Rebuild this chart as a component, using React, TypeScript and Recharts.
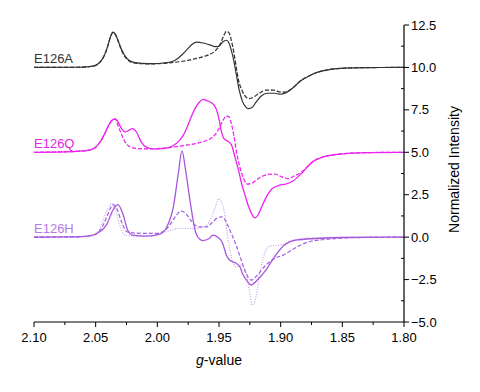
import { LineChart, Line, XAxis, YAxis, ReferenceDot } from "recharts";

type Pt = [number, number];

// g-value ticks (major every 0.05, minor every 0.025)
const xTicks = [2.1, 2.075, 2.05, 2.025, 2.0, 1.975, 1.95, 1.925, 1.9, 1.875, 1.85, 1.825, 1.8];
const yTicks = [-5, -3.75, -2.5, -1.25, 0, 1.25, 2.5, 3.75, 5, 6.25, 7.5, 8.75, 10, 11.25, 12.5];

// E126A, offset +10
const aSolid: Pt[] = [
  [2.1, 10.0], [2.065, 10.01], [2.055, 10.05], [2.05, 10.12], [2.046, 10.35], [2.043, 10.7], [2.04, 11.3],
  [2.038, 11.8], [2.036, 12.08], [2.034, 11.95], [2.032, 11.6], [2.029, 11.05], [2.026, 10.65], [2.023, 10.42],
  [2.019, 10.3], [2.012, 10.24], [2.004, 10.22], [1.995, 10.26], [1.988, 10.35], [1.984, 10.5], [1.98, 10.75],
  [1.976, 11.05], [1.972, 11.35], [1.968, 11.49], [1.963, 11.44], [1.958, 11.34], [1.953, 11.22], [1.95, 11.25],
  [1.947, 11.5], [1.944, 11.6], [1.942, 11.45], [1.94, 11.0], [1.938, 10.4], [1.936, 9.6], [1.934, 8.8],
  [1.931, 8.0], [1.928, 7.65], [1.926, 7.57], [1.923, 7.65], [1.92, 7.95], [1.916, 8.3], [1.911, 8.48],
  [1.905, 8.48], [1.9, 8.42], [1.896, 8.5], [1.89, 8.8], [1.884, 9.2], [1.877, 9.5], [1.87, 9.72],
  [1.86, 9.88], [1.848, 9.96], [1.83, 9.99], [1.8, 10.0],
];
const aDash: Pt[] = [
  [2.1, 10.0], [2.065, 10.01], [2.055, 10.05], [2.05, 10.12], [2.046, 10.35], [2.043, 10.7], [2.04, 11.3],
  [2.038, 11.8], [2.036, 12.05], [2.034, 11.95], [2.032, 11.6], [2.029, 11.0], [2.026, 10.6], [2.023, 10.38],
  [2.019, 10.27], [2.012, 10.22], [2.004, 10.21], [1.995, 10.24], [1.986, 10.3], [1.978, 10.38], [1.97, 10.5],
  [1.963, 10.63], [1.958, 10.76], [1.954, 10.92], [1.951, 11.15], [1.948, 11.55], [1.946, 11.9], [1.944, 12.12],
  [1.942, 12.05], [1.94, 11.6], [1.938, 10.9], [1.936, 10.0], [1.934, 9.2], [1.931, 8.6], [1.928, 8.25],
  [1.926, 8.16], [1.922, 8.25], [1.917, 8.5], [1.912, 8.66], [1.906, 8.66], [1.9, 8.55], [1.896, 8.55],
  [1.89, 8.8], [1.884, 9.2], [1.877, 9.5], [1.87, 9.72], [1.86, 9.88], [1.848, 9.96], [1.83, 9.99], [1.8, 10.0],
];

// E126Q, offset +5
const qSolid: Pt[] = [
  [2.1, 5.0], [2.07, 5.04], [2.06, 5.08], [2.054, 5.15], [2.05, 5.3], [2.046, 5.65], [2.042, 6.2], [2.039, 6.65],
  [2.036, 6.93], [2.034, 6.96], [2.032, 6.8], [2.029, 6.4], [2.026, 6.2], [2.023, 6.3], [2.02, 6.39], [2.017, 6.2],
  [2.013, 5.6], [2.009, 5.3], [2.004, 5.2], [1.998, 5.2], [1.992, 5.26], [1.987, 5.4], [1.982, 5.7], [1.979, 6.0],
  [1.976, 6.45], [1.973, 7.0], [1.97, 7.5], [1.966, 7.95], [1.963, 8.12], [1.96, 8.05], [1.957, 7.96],
  [1.954, 7.78], [1.952, 7.5], [1.95, 6.96], [1.948, 6.2], [1.946, 5.8], [1.943, 5.65], [1.94, 5.45],
  [1.937, 4.7], [1.934, 3.9], [1.932, 3.25], [1.929, 2.5], [1.926, 1.8], [1.923, 1.3], [1.921, 1.13],
  [1.918, 1.35], [1.915, 1.85], [1.911, 2.45], [1.907, 2.85], [1.901, 3.06], [1.896, 3.12], [1.89, 3.31],
  [1.882, 3.84], [1.874, 4.45], [1.866, 4.72], [1.858, 4.84], [1.845, 4.94], [1.83, 4.98], [1.8, 5.0],
];
const qDash: Pt[] = [
  [2.1, 5.0], [2.07, 5.04], [2.06, 5.08], [2.054, 5.15], [2.05, 5.3], [2.046, 5.65], [2.042, 6.2], [2.039, 6.65],
  [2.036, 6.93], [2.034, 6.96], [2.032, 6.6], [2.029, 6.05], [2.026, 5.6], [2.022, 5.31], [2.016, 5.22],
  [2.008, 5.2], [2.0, 5.22], [1.99, 5.28], [1.98, 5.38], [1.97, 5.5], [1.962, 5.65], [1.957, 5.8], [1.953, 6.05],
  [1.95, 6.4], [1.947, 6.85], [1.944, 7.13], [1.942, 7.1], [1.94, 6.7], [1.938, 6.0], [1.936, 5.1], [1.933, 4.1],
  [1.93, 3.45], [1.927, 3.12], [1.923, 3.2], [1.917, 3.5], [1.91, 3.7], [1.905, 3.72], [1.899, 3.55],
  [1.894, 3.45], [1.889, 3.6], [1.882, 3.9], [1.874, 4.45], [1.866, 4.72], [1.858, 4.84], [1.845, 4.94],
  [1.83, 4.98], [1.8, 5.0],
];

// E126H, offset 0
const hSolid: Pt[] = [
  [2.1, 0], [2.065, 0.02], [2.053, 0.1], [2.047, 0.3], [2.041, 0.75], [2.036, 1.59], [2.032, 1.92], [2.028, 1.39],
  [2.024, 0.41], [2.02, 0.12], [2.009, 0.06], [1.998, 0.18], [1.993, 0.51], [1.987, 1.78], [1.983, 3.75],
  [1.98, 5.08], [1.977, 3.9], [1.973, 1.9], [1.969, 0.3], [1.966, -0.1], [1.963, -0.2], [1.958, -0.08],
  [1.955, 0.12], [1.951, 0.0], [1.947, -0.37], [1.944, -1.06], [1.941, -1.38], [1.937, -1.5], [1.933, -1.75],
  [1.931, -2.14], [1.927, -2.6], [1.924, -2.82], [1.919, -2.53], [1.912, -1.94], [1.905, -1.16], [1.897, -0.47],
  [1.888, -0.18], [1.871, -0.08], [1.85, -0.02], [1.8, 0],
];
const hDash: Pt[] = [
  [2.1, 0], [2.065, 0.02], [2.055, 0.08], [2.05, 0.18], [2.047, 0.35], [2.044, 0.7], [2.041, 1.2], [2.038, 1.7],
  [2.036, 1.92], [2.033, 1.7], [2.029, 0.9], [2.025, 0.33], [2.02, 0.25], [2.01, 0.22], [2.001, 0.22],
  [1.995, 0.35], [1.99, 0.71], [1.985, 1.25], [1.981, 1.53], [1.977, 1.4], [1.974, 1.1], [1.97, 0.75],
  [1.966, 0.6], [1.96, 0.61], [1.955, 0.9], [1.951, 1.15], [1.948, 1.2], [1.945, 1.0], [1.942, 0.55],
  [1.939, 0.05], [1.936, -0.5], [1.932, -1.35], [1.928, -2.14], [1.924, -2.53], [1.919, -2.24], [1.912, -1.65],
  [1.905, -1.25], [1.898, -1.06], [1.889, -0.67], [1.877, -0.27], [1.858, -0.1], [1.84, -0.03], [1.8, 0],
];
const hDot: Pt[] = [
  [2.1, 0], [2.065, 0.02], [2.055, 0.08], [2.05, 0.2], [2.047, 0.45], [2.044, 1.0], [2.04, 1.7], [2.037, 1.98],
  [2.034, 1.6], [2.03, 0.61], [2.026, 0.12], [2.018, 0.06], [2.005, 0.06], [1.993, 0.31], [1.982, 0.51],
  [1.971, 0.51], [1.963, 0.58], [1.958, 0.9], [1.954, 1.55], [1.95, 2.27], [1.947, 1.9], [1.945, 1.2],
  [1.943, 0.05], [1.94, -1.16], [1.936, -1.75], [1.932, -1.65], [1.928, -2.14], [1.925, -3.31], [1.923, -4.0],
  [1.92, -3.51], [1.917, -2.14], [1.913, -0.96], [1.909, -0.53], [1.901, -0.47], [1.896, -0.37], [1.89, -0.18],
  [1.875, -0.04], [1.8, 0],
];

const FONT = "Arial, 'Liberation Sans', sans-serif";
const toRows = (pts: Pt[]) => pts.map(([g, v]) => ({ g, v }));

function XTick({ x, y, payload }: any) {
  const v = payload.value as number;
  const major = Math.abs(v * 20 - Math.round(v * 20)) < 1e-6;
  return (
    <g>
      <line x1={x} x2={x} y1={y} y2={y + (major ? 5 : 3)} stroke="#000" strokeWidth={1} />
      {major && (
        <text x={x} y={y + 20} textAnchor="middle" fontSize={13} fontFamily={FONT} fill="#000">
          {v.toFixed(2)}
        </text>
      )}
    </g>
  );
}

function YTick({ x, y, payload }: any) {
  const v = payload.value as number;
  const major = Math.abs(v / 2.5 - Math.round(v / 2.5)) < 1e-6;
  const s = v.toFixed(1).replace("-", "\u2212");
  return (
    <g>
      {major ? (
        <line x1={x} x2={x + 5} y1={y} y2={y} stroke="#000" />
      ) : (
        <line x1={x - 3} x2={x} y1={y} y2={y} stroke="#000" />
      )}
      {major && (
        <text x={x + 7} y={y + 4.5} fontSize={13} fontFamily={FONT} fill="#000">
          {s}
        </text>
      )}
    </g>
  );
}

function XTitle({ viewBox }: any) {
  const cx = viewBox.x + viewBox.width / 2;
  return (
    <text x={cx} y={viewBox.y + 43} textAnchor="middle" fontSize={14} fontFamily={FONT} fill="#000">
      <tspan fontStyle="italic">g</tspan>-value
    </text>
  );
}

function YTitle({ viewBox }: any) {
  const x = viewBox.x + 55;
  const y = viewBox.y + viewBox.height / 2 - 4;
  return (
    <text x={x} y={y} textAnchor="middle" fontSize={14} fontFamily={FONT} fill="#000" transform={`rotate(-90 ${x} ${y})`}>
      Normalized Intensity
    </text>
  );
}

function GroupLabel({ viewBox, text, color }: any) {
  return (
    <text x={viewBox.x} y={viewBox.y - 4} fontSize={13} fontFamily={FONT} fill={color}>
      {text}
    </text>
  );
}

export default function App() {
  return (
    <div style={{ position: "absolute", left: 0, top: 0, width: 480, height: 392, background: "#fff" }}>
      <LineChart width={480} height={392} margin={{ top: 25, right: 15, bottom: 30, left: 34 }}>
        <XAxis
          dataKey="g"
          type="number"
          domain={[1.8, 2.1]}
          reversed
          ticks={xTicks}
          interval={0}
          tickSize={0}
          tickMargin={0}
          tickLine={false}
          tick={(p: any) => <XTick {...p} />}
          axisLine={{ stroke: "#000", strokeWidth: 1.2 }}
          height={40}
          label={<XTitle />}
        />
        <YAxis
          orientation="right"
          type="number"
          domain={[-5, 12.5]}
          ticks={yTicks}
          interval={0}
          tickSize={0}
          tickMargin={0}
          tickLine={false}
          tick={(p: any) => <YTick {...p} />}
          axisLine={{ stroke: "#000", strokeWidth: 1.2 }}
          width={61}
          label={<YTitle />}
        />
        <Line data={toRows(aDash)} dataKey="v" type="monotone" stroke="#aaaaaa" strokeWidth={1.2} strokeDasharray="1 2" dot={false} isAnimationActive={false} />
        <Line data={toRows(aDash)} dataKey="v" type="monotone" stroke="#333333" strokeWidth={1.2} strokeDasharray="4 2" dot={false} isAnimationActive={false} />
        <Line data={toRows(aSolid)} dataKey="v" type="monotone" stroke="#333333" strokeWidth={1.2} dot={false} isAnimationActive={false} />
        <Line data={toRows(qDash)} dataKey="v" type="monotone" stroke="#f59af5" strokeWidth={1.2} strokeDasharray="1 2" dot={false} isAnimationActive={false} />
        <Line data={toRows(qDash)} dataKey="v" type="monotone" stroke="#ee22ee" strokeWidth={1.2} strokeDasharray="4 2" dot={false} isAnimationActive={false} />
        <Line data={toRows(qSolid)} dataKey="v" type="monotone" stroke="#ee22ee" strokeWidth={1.3} dot={false} isAnimationActive={false} />
        <Line data={toRows(hDot)} dataKey="v" type="monotone" stroke="#c79ff0" strokeWidth={1.2} strokeDasharray="1 1.5" dot={false} isAnimationActive={false} />
        <Line data={toRows(hDash)} dataKey="v" type="monotone" stroke="#a060dc" strokeWidth={1.2} strokeDasharray="4 2" dot={false} isAnimationActive={false} />
        <Line data={toRows(hSolid)} dataKey="v" type="monotone" stroke="#a658dc" strokeWidth={1.3} dot={false} isAnimationActive={false} />
        <ReferenceDot x={2.1} y={10} r={0} stroke="none" fill="none" label={<GroupLabel text="E126A" color="#333333" />} />
        <ReferenceDot x={2.1} y={5} r={0} stroke="none" fill="none" label={<GroupLabel text="E126Q" color="#e624e6" />} />
        <ReferenceDot x={2.1} y={0} r={0} stroke="none" fill="none" label={<GroupLabel text="E126H" color="#b47ae6" />} />
      </LineChart>
    </div>
  );
}
